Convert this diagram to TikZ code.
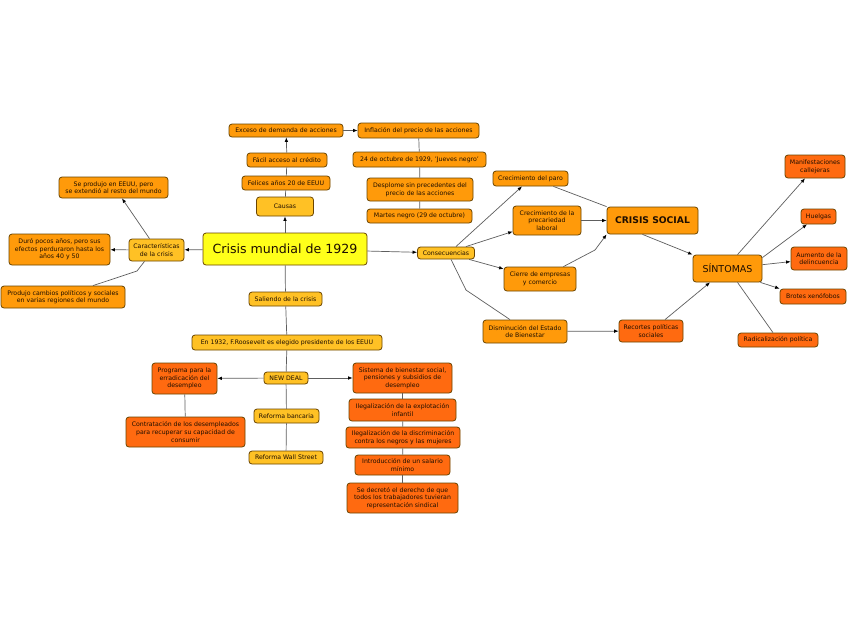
\documentclass[tikz,border=0pt]{standalone}
\usepackage{fontspec}
\setmainfont{DejaVu Sans}
\usetikzlibrary{arrows.meta}
\definecolor{cY}{HTML}{FFFF1A}
\definecolor{cG}{HTML}{FFC125}
\definecolor{cO}{HTML}{FF9A0A}
\definecolor{cR}{HTML}{FF6A10}
\definecolor{bord}{HTML}{6B4500}
\definecolor{txt}{HTML}{1E0E00}
\definecolor{lnc}{HTML}{5E5E5E}
\tikzset{
  box/.style={draw=bord, line width=0.8pt, rounded corners=3pt, align=center,
    inner sep=0pt, text=txt, font=\fontsize{6.2}{7.6}\selectfont},
  gold/.style={box, fill=cG},
  oran/.style={box, fill=cO},
  redo/.style={box, fill=cR},
  sz/.style 2 args={minimum width=#1pt, minimum height=#2pt},
  ln/.style={draw=lnc, line width=0.7pt},
  ar/.style={ln, -{Latex[length=4.5pt,width=3.6pt,color=black]}},
}
\begin{document}
\begin{tikzpicture}[x=1pt,y=-1pt]
\useasboundingbox[fill=white] (0,0) rectangle (848,638);
% central
\node[box, fill=cY, font=\fontsize{12.6}{14}\selectfont, sz={164}{32}] (c) at (285,249) {Crisis mundial de 1929};
% characteristics
\node[gold, sz={55}{22}] (car) at (156.5,250) {Características\\de la crisis};
\node[oran, sz={109}{21}] (se) at (113.5,187.5) {Se produjo en EEUU, pero\\se extendió al resto del mundo};
\node[oran, sz={101}{31}] (duro) at (59.5,249.5) {Duró pocos años, pero sus\\efectos perduraron hasta los\\años 40 y 50};
\node[oran, sz={124}{22}] (prod) at (63,297) {Produjo cambios políticos y sociales\\en varias regiones del mundo};
% causes
\node[gold, sz={57}{19}] (causas) at (285,206.5) {Causas};
\node[oran, sz={88}{14}] (felices) at (286,183) {Felices años 20 de EEUU};
\node[oran, sz={80}{14}] (facil) at (287,160) {Fácil acceso al crédito};
\node[oran, sz={114}{13}] (exceso) at (286,130.5) {Exceso de demanda de acciones};
\node[oran, sz={121}{15}] (infl) at (418.5,130.5) {Inflación del precio de las acciones};
\node[oran, sz={133}{15}] (jueves) at (419.5,159.5) {24 de octubre de 1929, 'Jueves negro'};
\node[oran, sz={106}{23}] (despl) at (420,189.5) {Desplome sin precedentes del\\precio de las acciones};
\node[oran, sz={105}{14}] (martes) at (419.5,216) {Martes negro (29 de octubre)};
% consequences
\node[gold, sz={57}{12}] (cons) at (446,253) {Consecuencias};
\node[oran, sz={75}{15}] (paro) at (530.5,178.5) {Crecimiento del paro};
\node[oran, sz={68}{29}] (prec) at (547,220.5) {Crecimiento de la\\precariedad\\laboral};
\node[oran, sz={72}{24}] (cierre) at (540,279) {Cierre de empresas\\y comercio};
\node[oran, sz={84}{23}] (dism) at (525,331.5) {Disminución del Estado\\de Bienestar};
\node[oran, font=\fontsize{9.2}{11}\selectfont\bfseries, sz={91}{27}] (crisis) at (652.5,220.5) {CRISIS SOCIAL};
\node[redo, sz={64}{22}] (recortes) at (651,331) {Recortes políticas\\sociales};
\node[oran, font=\fontsize{9.5}{11}\selectfont, sz={69}{27}] (sint) at (727.5,268.5) {SÍNTOMAS};
\node[redo, sz={60}{23}] (manif) at (815,166.5) {Manifestaciones\\callejeras};
\node[redo, sz={35}{15}] (huelgas) at (818.5,216.5) {Huelgas};
\node[redo, sz={56}{23}] (aumento) at (819,258.5) {Aumento de la\\delincuencia};
\node[redo, sz={66}{15}] (brotes) at (813,296.5) {Brotes xenófobos};
\node[redo, sz={80}{14}] (radic) at (778,340) {Radicalización política};
% way out
\node[gold, sz={73}{14}] (saliendo) at (285.5,299) {Saliendo de la crisis};
\node[gold, sz={190}{15}] (en1932) at (287,342.5) {En 1932, F.Roosevelt es elegido presidente de los EEUU};
\node[gold, sz={44}{12}] (newdeal) at (286,378) {NEW DEAL};
\node[redo, sz={65}{31}] (prog) at (184.5,378.5) {Programa para la\\erradicación del\\desempleo};
\node[redo, sz={119}{30}] (contr) at (185.5,432) {Contratación de los desempleados\\para recuperar su capacidad de\\consumir};
\node[gold, sz={65}{14}] (banc) at (286.5,416) {Reforma bancaria};
\node[gold, sz={74}{13}] (wall) at (286,457.5) {Reforma Wall Street};
\node[redo, sz={99}{30}] (sist) at (402.5,378) {Sistema de bienestar social,\\pensiones y subsidios de\\desempleo};
\node[redo, sz={107}{22}] (ileg1) at (402.5,410) {Ilegalización de la explotación\\infantil};
\node[redo, sz={114}{21}] (ileg2) at (403,437.5) {Ilegalización de la discriminación\\contra los negros y las mujeres};
\node[redo, sz={95}{20}] (intro) at (402.5,465) {Introducción de un salario\\mínimo};
\node[redo, sz={111}{30}] (decr) at (402.5,498) {Se decretó el derecho de que\\todos los trabajadores tuvieran\\representación sindical};
% bend coordinates
\coordinate (bProd) at (137,271);
\coordinate (bDism) at (466,290);
\coordinate (bCierre) at (595,250);
% connectors
\draw[ar] (c) -- (car);
\draw[ar] ([xshift=-7pt]car.north) -- ([xshift=8.5pt]se.south);
\draw[ar] (car) -- (duro);
\draw[ln] ([xshift=-12pt]car.south) -- (bProd) -- ([xshift=30pt]prod.north);
\draw[ar] (c) -- (causas);
\draw[ln] (causas) -- (felices);
\draw[ln] (felices) -- (facil);
\draw[ar] (facil) -- (exceso);
\draw[ar] (exceso) -- (infl);
\draw[ln] (infl) -- (jueves);
\draw[ln] (jueves) -- (despl);
\draw[ln] (despl) -- (martes);
\draw[ar] (c) -- (cons);
\draw[ar] ([xshift=-19pt]cons.north east) -- ([xshift=-8.5pt]paro.south);
\draw[ar] (cons) -- (prec);
\draw[ar] (cons) -- (cierre);
\draw[ln] ([xshift=5pt]cons.south) -- (bDism) -- ([xshift=-15pt]dism.north);
\draw[ln] ([xshift=-15pt]paro.south east) -- (crisis.north west);
\draw[ar] (prec) -- (crisis);
\draw[ln] ([xshift=-13pt]cierre.north east) -- (bCierre);
\draw[ar] (bCierre) -- (crisis.south west);
\draw[ar] ([xshift=-10pt]crisis.south) -- (sint.north west);
\draw[ar] (dism) -- (recortes);
\draw[ar] ([xshift=14pt]recortes.north) -- ([xshift=-17.5pt]sint.south);
\draw[ar] ([xshift=10pt]sint.north) -- ([xshift=-10pt]manif.south);
\draw[ar] ([yshift=-3pt]sint.north east) -- ([xshift=-11.5pt]huelgas.south);
\draw[ar] (sint) -- (aumento);
\draw[ar] ([xshift=-2pt]sint.south east) -- (brotes.north west);
\draw[ln] ([xshift=10pt]sint.south) -- ([xshift=-5pt]radic.north);
\draw[ln] (c) -- (saliendo);
\draw[ln] (saliendo) -- (en1932);
\draw[ln] (en1932) -- (newdeal);
\draw[ar] (newdeal) -- (prog);
\draw[ar] (newdeal) -- (sist);
\draw[ln] (newdeal) -- (banc);
\draw[ln] (banc) -- (wall);
\draw[ln] (prog) -- (contr);
\draw[ln] (sist) -- (ileg1);
\draw[ln] (ileg1) -- (ileg2);
\draw[ln] (ileg2) -- (intro);
\draw[ln] (intro) -- (decr);
\end{tikzpicture}
\end{document}
